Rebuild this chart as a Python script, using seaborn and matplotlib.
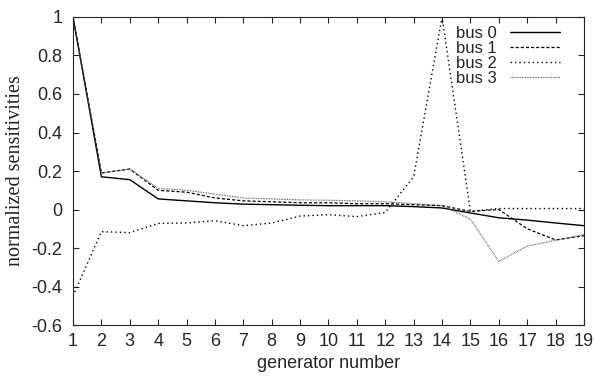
import matplotlib
matplotlib.use('Agg')
from matplotlib import pyplot as plt
import pandas as pd
import seaborn as sns

# values
generators = list(range(1, 20))
bus0 = [1.0, 0.17, 0.155, 0.055, 0.045, 0.035, 0.028, 0.025, 0.022, 0.02,
        0.02, 0.02, 0.015, 0.008, -0.018, -0.043, -0.055, -0.07, -0.084]
bus1 = [1.0, 0.19, 0.21, 0.10, 0.09, 0.06, 0.045, 0.04, 0.035, 0.035,
        0.03, 0.03, 0.025, 0.02, -0.01, 0.0, -0.10, -0.158, -0.136]
bus2 = [-0.45, -0.115, -0.12, -0.072, -0.07, -0.058, -0.084, -0.07, -0.034, -0.027,
        -0.037, -0.015, 0.17, 1.0, -0.01, 0.005, 0.005, 0.005, 0.005]
bus3 = [1.0, 0.19, 0.21, 0.11, 0.10, 0.08, 0.06, 0.055, 0.05, 0.048,
        0.045, 0.04, 0.03, 0.02, -0.05, -0.27, -0.19, -0.16, -0.13]
labels = ['bus 0', 'bus 1', 'bus 2', 'bus 3']
yticks = [-0.6, -0.4, -0.2, 0, 0.2, 0.4, 0.6, 0.8, 1.0]
ytick_labels = ['-0.6', '-0.4', '-0.2', '0', '0.2', '0.4', '0.6', '0.8', '1']

df = pd.DataFrame({'gen': generators, 'bus 0': bus0, 'bus 1': bus1,
                   'bus 2': bus2, 'bus 3': bus3})

sns.set_style('ticks')
plt.rcParams['font.family'] = ['Liberation Sans', 'DejaVu Sans']

f, ax = plt.subplots(figsize=(5.95, 3.76), dpi=100)
f.subplots_adjust(left=0.1227, right=0.9815, bottom=0.1356, top=0.9548)

styles = [dict(color='black', ls='-', lw=1.0),
          dict(color='black', ls=(0, (2.5, 1.6)), lw=0.9),
          dict(color='black', ls=(0, (1, 2.2)), lw=1.0),
          dict(color='#555555', ls=(0, (0.6, 0.7)), lw=0.9)]

for lab, st in zip(labels, styles):
    sns.lineplot(data=df, x='gen', y=lab, ax=ax, label=lab, **st)

ax.set_xlim(1, 19)
ax.set_ylim(-0.6, 1.0)
ax.set_xticks(generators)
ax.set_yticks(yticks)
ax.set_yticklabels(ytick_labels)
ax.tick_params(direction='in', top=True, right=True, labelsize=13, length=4, width=0.8)
ax.tick_params(axis='x', pad=6)
ax.tick_params(axis='y', pad=7.5)
for s in ax.spines.values():
    s.set_linewidth(0.8)

ax.set_xlabel('generator number', fontsize=13, labelpad=3)
ax.set_ylabel('normalized sensitivities', fontsize=14.5, family='Liberation Serif',
              labelpad=5, color='#222222')

ax.legend(loc='upper right', bbox_to_anchor=(0.953, 0.97), frameon=False, markerfirst=False,
          fontsize=12, handlelength=3.0, labelspacing=0.0, borderaxespad=0, borderpad=0,
          handletextpad=0.8)

plt.savefig('out.png', dpi=100)
